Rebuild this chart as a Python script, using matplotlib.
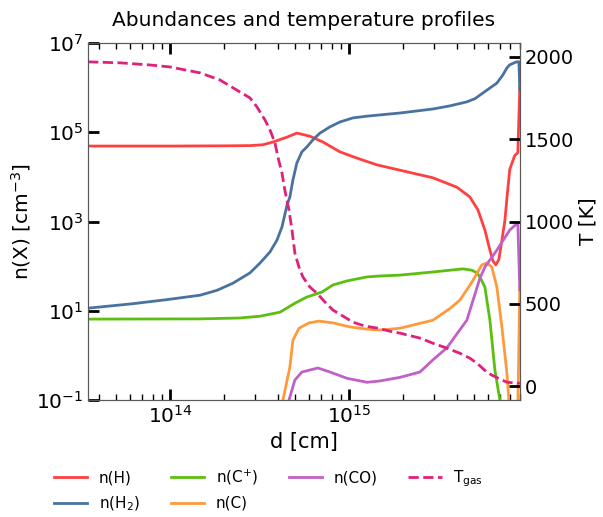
import matplotlib.pyplot as plt
import numpy as np

# values: log10(d / cm) and log10(n / cm^-3), T in K
logd_H = [13.542, 14.0, 14.3, 14.447, 14.52, 14.575, 14.654, 14.709, 14.782, 14.855, 14.95,
          15.045, 15.156, 15.285, 15.469, 15.603, 15.676, 15.721, 15.760, 15.788, 15.805,
          15.821, 15.838, 15.855, 15.872, 15.883, 15.899, 15.927, 15.944, 15.955]
logn_H = [4.69, 4.69, 4.695, 4.70, 4.72, 4.78, 4.89, 4.98, 4.91, 4.78, 4.56,
          4.42, 4.27, 4.15, 3.98, 3.77, 3.55, 3.26, 2.81, 2.36, 2.12,
          2.03, 2.15, 2.58, 3.03, 3.52, 4.17, 4.48, 4.54, 5.99]

logd_H2 = [13.542, 13.793, 13.98, 14.168, 14.263, 14.352, 14.447, 14.503, 14.559, 14.598,
           14.626, 14.654, 14.670, 14.687, 14.709, 14.737, 14.765, 14.799, 14.838, 14.894,
           14.95, 15.022, 15.101, 15.285, 15.469, 15.564, 15.659, 15.704, 15.732, 15.788,
           15.827, 15.860, 15.883, 15.899, 15.933, 15.950, 15.955]
logn_H2 = [1.06, 1.16, 1.25, 1.35, 1.46, 1.62, 1.85, 2.07, 2.32, 2.585,
           2.88, 3.37, 3.55, 3.93, 4.31, 4.56, 4.67, 4.83, 4.98, 5.12,
           5.23, 5.32, 5.36, 5.43, 5.52, 5.59, 5.68, 5.75, 5.83, 5.99,
           6.10, 6.28, 6.44, 6.51, 6.57, 6.58, 5.95]

logd_Cp = [13.542, 14.168, 14.391, 14.503, 14.615, 14.698, 14.765, 14.849, 14.911, 14.989,
           15.101, 15.173, 15.285, 15.469, 15.637, 15.687, 15.715, 15.732, 15.760, 15.788,
           15.816, 15.844, 15.855, 15.880, 15.955]
logn_Cp = [0.815, 0.82, 0.84, 0.88, 0.97, 1.17, 1.31, 1.42, 1.58, 1.67,
           1.76, 1.78, 1.80, 1.87, 1.94, 1.91, 1.85, 1.76, 1.53, 0.79,
           -0.33, -1.0, -1.5, -3.0, -3.0]

logd_C = [14.631, 14.670, 14.687, 14.721, 14.777, 14.832, 14.911, 15.006, 15.101, 15.173,
          15.285, 15.397, 15.469, 15.564, 15.620, 15.687, 15.743, 15.771, 15.799, 15.827,
          15.855, 15.883, 15.894, 15.930, 15.944, 15.955]
logn_C = [-1.0, -0.26, 0.34, 0.61, 0.73, 0.77, 0.73, 0.64, 0.59, 0.57,
          0.61, 0.72, 0.79, 1.05, 1.24, 1.64, 2.03, 2.07, 1.98, 1.53,
          0.64, -0.39, -1.0, -3.0, -1.2, 1.53]

logd_CO = [14.665, 14.698, 14.737, 14.827, 14.894, 14.989, 15.101, 15.173, 15.285, 15.397,
           15.469, 15.547, 15.659, 15.732, 15.760, 15.827, 15.899, 15.944, 15.955]
logn_CO = [-1.0, -0.55, -0.37, -0.28, -0.37, -0.51, -0.60, -0.57, -0.49, -0.37,
           -0.10, 0.17, 0.79, 1.73, 1.98, 2.36, 2.81, 2.97, 1.47]

logd_T = [13.542, 13.721, 13.888, 14.0, 14.168, 14.279, 14.391, 14.447, 14.486, 14.531,
          14.559, 14.587, 14.603, 14.626, 14.642, 14.665, 14.682, 14.698, 14.721, 14.743,
          14.782, 14.821, 14.866, 14.911, 14.966, 15.022, 15.089, 15.156, 15.229, 15.285,
          15.397, 15.469, 15.547, 15.620, 15.676, 15.715, 15.771, 15.799, 15.844, 15.883,
          15.944, 15.955]
T_gas = [1970, 1964, 1951, 1939, 1903, 1860, 1787, 1751, 1696, 1617,
         1556, 1477, 1392, 1295, 1191, 1070, 948, 808, 723, 663,
         602, 565, 511, 462, 426, 389, 365, 353, 334, 322,
         292, 261, 231, 200, 170, 140, 85, 67, 43, 24,
         18, 20]

plt.rcParams.update({'font.size': 14})

fig, ax = plt.subplots(figsize=(6.03, 5.17), dpi=100)
fig.subplots_adjust(left=0.146, right=0.862, top=0.917, bottom=0.226)

lw = 2.0
ax.plot(10**np.array(logd_H), 10**np.array(logn_H), color='#ff4040', lw=lw, label='n(H)')
ax.plot(10**np.array(logd_H2), 10**np.array(logn_H2), color='#4a72a0', lw=lw, label='n(H$_2$)')
ax.plot(10**np.array(logd_Cp), 10**np.array(logn_Cp), color='#5cbf10', lw=lw, label='n(C$^{\\!+}\\!$)')
ax.plot(10**np.array(logd_C), 10**np.array(logn_C), color='#ff9a3c', lw=lw, label='n(C)')
ax.plot(10**np.array(logd_CO), 10**np.array(logn_CO), color='#c060c8', lw=lw, label='n(CO)')

ax.set_xscale('log')
ax.set_yscale('log')
ax.set_xlim(10**13.542, 10**15.955)
ax.set_ylim(1e-1, 1e7)
ax.set_yticks([1e-1, 1e1, 1e3, 1e5, 1e7])
ax.yaxis.set_minor_locator(plt.NullLocator())
ax.set_xlabel('d [cm]', fontsize=15)
ax.set_ylabel('n(X) [cm$^{-3}$]', fontsize=14.5, labelpad=2)
ax.set_title('Abundances and temperature profiles', fontsize=14.5, pad=12)
ax.tick_params(which='major', direction='in', length=8, width=2, top=True, labelsize=14.5)
ax.tick_params(which='minor', direction='in', length=4, width=1, top=True)

ax2 = ax.twinx()
ax2.plot(10**np.array(logd_T), T_gas, color='#e0207a', lw=lw, ls='--', label='T$_{\\rm gas}$')
ax2.set_ylim(-85, 2085)
ax2.set_yticks([0, 500, 1000, 1500, 2000])
ax2.set_ylabel('T [K]', fontsize=14.5, labelpad=3)
ax2.tick_params(direction='in', length=8, width=2, labelsize=14)

for a in (ax, ax2):
    for s in a.spines.values():
        s.set_color('0.35')

h1, l1 = ax.get_legend_handles_labels()
h2, l2 = ax2.get_legend_handles_labels()
ax.legend(h1 + h2, l1 + l2, ncol=4, frameon=False, fontsize=11,
          loc='upper left', bbox_to_anchor=(-0.111, -0.15), handlelength=2.2,
          handletextpad=0.75, columnspacing=2.0, labelspacing=0.6)

plt.savefig('out.png', dpi=100)
